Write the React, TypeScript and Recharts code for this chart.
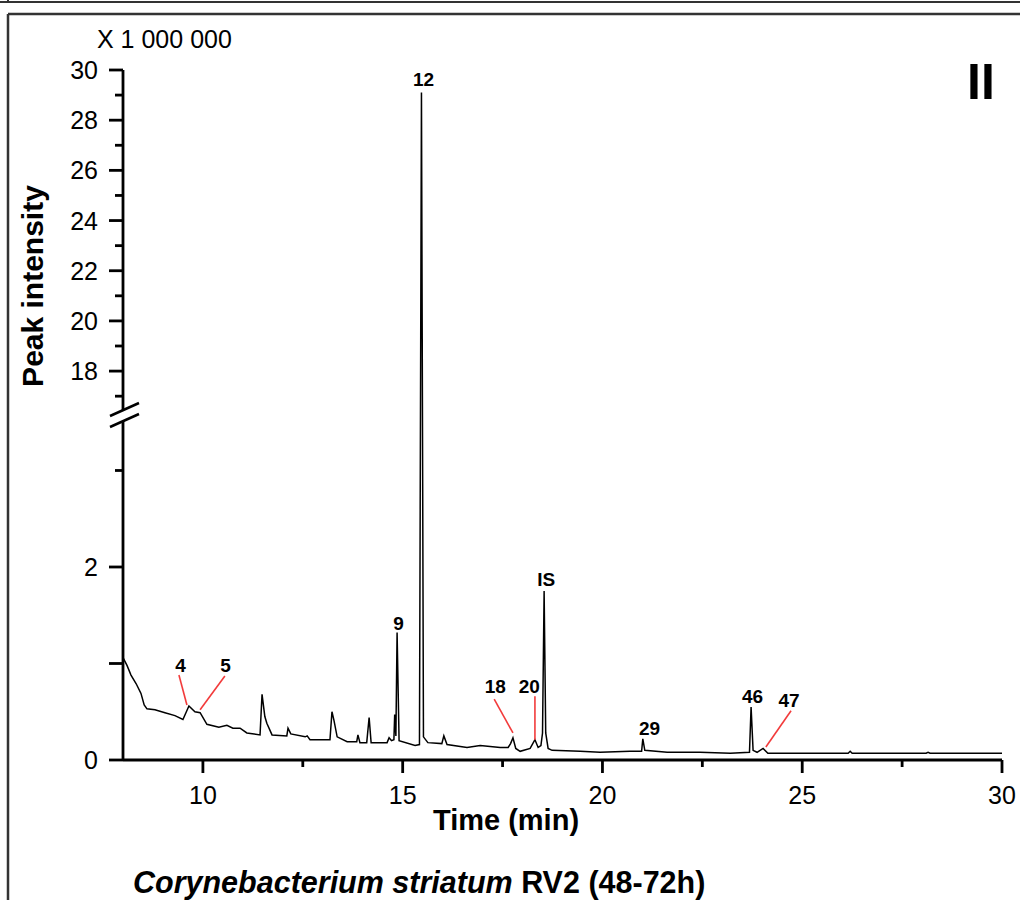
import { ComposedChart, Line, XAxis, YAxis, ReferenceLine, ReferenceDot } from "recharts";

// broken y axis: 0..BREAK_LOW drawn at full scale, BREAK_HIGH..30 compressed
const BREAK_LOW = 3.575;
const BREAK_HIGH = 16.25;
const UPPER_RATIO = 0.26;
const Y_TOP = BREAK_LOW + (30 - BREAK_HIGH) * UPPER_RATIO;

// retention time (min)
const times = [
  8.0, 8.1, 8.2, 8.33, 8.45, 8.53, 8.6, 8.8, 9.05, 9.3, 9.5, 9.65, 9.8, 9.93, 10.1, 10.4, 10.6, 10.75,
  10.93, 11.1, 11.43, 11.48, 11.55, 11.6, 11.73, 12.1, 12.13, 12.2, 12.56, 12.61, 12.68, 13.18, 13.23,
  13.28, 13.36, 13.61, 13.85, 13.88, 13.93, 14.1, 14.16, 14.21, 14.61, 14.66, 14.72, 14.78, 14.8, 14.83,
  14.86, 14.91, 15.31, 15.42, 15.47, 15.52, 15.63, 15.98, 16.03, 16.11, 16.61, 16.94, 17.44, 17.64,
  17.7, 17.76, 17.83, 17.94, 18.19, 18.31, 18.39, 18.46, 18.5, 18.54, 18.58, 18.64, 18.74, 19.44, 19.94,
  20.69, 20.98, 21.01, 21.06, 21.62, 22.44, 23.2, 23.68, 23.72, 23.77, 23.87, 24.02, 24.14, 26.15, 26.2,
  26.25, 28.1, 28.15, 28.2, 30.0,
];

// peak intensity (x 1 000 000)
const intensity = [
  1.06, 0.98, 0.88, 0.79, 0.69, 0.57, 0.53, 0.52, 0.49, 0.46, 0.42, 0.56, 0.5, 0.49, 0.37, 0.34, 0.36,
  0.33, 0.33, 0.28, 0.26, 0.68, 0.45, 0.38, 0.26, 0.25, 0.33, 0.27, 0.24, 0.25, 0.21, 0.21, 0.5, 0.41,
  0.24, 0.19, 0.19, 0.26, 0.18, 0.18, 0.44, 0.18, 0.18, 0.23, 0.2, 0.21, 0.47, 0.25, 1.32, 0.2, 0.15,
  0.16, 29.1, 0.24, 0.18, 0.17, 0.25, 0.16, 0.13, 0.15, 0.13, 0.13, 0.17, 0.23, 0.12, 0.09, 0.12, 0.21,
  0.13, 0.15, 0.28, 1.75, 0.28, 0.12, 0.1, 0.09, 0.08, 0.09, 0.09, 0.22, 0.1, 0.08, 0.08, 0.07, 0.08,
  0.55, 0.1, 0.08, 0.12, 0.07, 0.07, 0.09, 0.07, 0.07, 0.08, 0.07, 0.07,
];

const xTicks = [10, 12.5, 15, 17.5, 20, 22.5, 25, 27.5, 30];
const xTickLabels = [10, 15, 20, 25, 30];
const yTicksLower = [0, 1, 2, 3];
const yTicksUpper = [17, 18, 19, 20, 21, 22, 23, 24, 25, 26, 27, 28, 29, 30];
const yTickLabels = [0, 2, 18, 20, 22, 24, 26, 28, 30];
const yMajorUnlabeled = [1];

// peak numbers (text baseline position)
const peakLabels = [
  { name: "4", time: 9.44, value: 0.91 },
  { name: "5", time: 10.565, value: 0.91 },
  { name: "9", time: 14.895, value: 1.347 },
  { name: "12", time: 15.52, value: 29.36 },
  { name: "18", time: 17.32, value: 0.694 },
  { name: "20", time: 18.17, value: 0.694 },
  { name: "IS", time: 18.59, value: 1.8 },
  { name: "29", time: 21.18, value: 0.259 },
  { name: "46", time: 23.755, value: 0.591 },
  { name: "47", time: 24.67, value: 0.549 },
];

// red leader lines from label to peak
const leaders = [
  { from: [9.4, 0.88], to: [9.6, 0.57] },
  { from: [10.55, 0.87], to: [9.93, 0.52] },
  { from: [17.29, 0.63], to: [17.76, 0.28] },
  { from: [18.31, 0.66], to: [18.31, 0.21] },
  { from: [24.72, 0.51], to: [24.09, 0.135] },
];

const FONT = "'Liberation Sans', Arial, sans-serif";

function toDisplay(v: number) {
  if (v <= BREAK_LOW) return v;
  if (v >= BREAK_HIGH) return BREAK_LOW + (v - BREAK_HIGH) * UPPER_RATIO;
  return BREAK_LOW;
}

function fromDisplay(d: number) {
  if (d <= BREAK_LOW + 1e-9) return d;
  return BREAK_HIGH + (d - BREAK_LOW) / UPPER_RATIO;
}

const data = times.map((t, i) => ({ time: t, value: toDisplay(intensity[i]) }));
const yTicks = [...yTicksLower, BREAK_LOW, ...yTicksUpper.map(toDisplay)];

function YTick(props: any) {
  const { x, y, payload } = props;
  if (Math.abs(payload.value - BREAK_LOW) < 1e-6) {
    return (
      <g>
        <rect x={x - 4} y={y - 4.5} width={8} height={10.5} fill="#fff" />
        <line x1={x - 13} y1={y + 1} x2={x + 16} y2={y - 12} stroke="#000" strokeWidth={2.5} />
        <line x1={x - 13} y1={y + 12} x2={x + 16} y2={y - 1} stroke="#000" strokeWidth={2.5} />
      </g>
    );
  }
  const v = Math.round(fromDisplay(payload.value) * 1000) / 1000;
  const labeled = yTickLabels.includes(v);
  const len = labeled || yMajorUnlabeled.includes(v) ? 14 : 8;
  return (
    <g>
      <line x1={x - len} y1={y} x2={x} y2={y} stroke="#000" strokeWidth={2.8} />
      {labeled && (
        <text x={x - 25} y={y + 9} textAnchor="end" fontSize={25} fontFamily={FONT} fill="#000">
          {v}
        </text>
      )}
    </g>
  );
}

function XTick(props: any) {
  const { x, y, payload } = props;
  const labeled = xTickLabels.includes(payload.value);
  return (
    <g>
      <line x1={x} y1={y} x2={x} y2={y + (labeled ? 13 : 7)} stroke="#000" strokeWidth={2.8} />
      {labeled && (
        <text x={x} y={y + 44} textAnchor="middle" fontSize={25} fontFamily={FONT} fill="#000">
          {payload.value}
        </text>
      )}
    </g>
  );
}

export default function App() {
  return (
    <div style={{ position: "absolute", left: 0, top: 0, width: 1020, height: 900, background: "#fff" }}>
      <ComposedChart width={1020} height={900} data={data} margin={{ top: 70, right: 18, left: 0, bottom: 100 }}>
        <XAxis
          dataKey="time"
          type="number"
          domain={[8, 30]}
          ticks={xTicks}
          interval={0}
          tickSize={0}
          tickMargin={0}
          tickLine={false}
          tick={<XTick />}
          height={40}
          axisLine={{ stroke: "#000", strokeWidth: 2.8 }}
        />
        <YAxis
          type="number"
          domain={[0, Y_TOP]}
          ticks={yTicks}
          interval={0}
          tickSize={0}
          tickMargin={0}
          tickLine={false}
          tick={<YTick />}
          width={123}
          axisLine={{ stroke: "#000", strokeWidth: 2.8 }}
        />
        <Line
          dataKey="value"
          type="linear"
          stroke="#000"
          strokeWidth={1.5}
          dot={false}
          isAnimationActive={false}
        />
        {leaders.map((l, i) => (
          <ReferenceLine
            key={i}
            segment={[
              { x: l.from[0], y: toDisplay(l.from[1]) },
              { x: l.to[0], y: toDisplay(l.to[1]) },
            ]}
            stroke="#f23b3b"
            strokeWidth={1.6}
          />
        ))}
        {peakLabels.map((p) => (
          <ReferenceDot
            key={p.name}
            x={p.time}
            y={toDisplay(p.value)}
            r={0}
            shape={(s: any) => (
              <text
                x={s.cx}
                y={s.cy}
                textAnchor="middle"
                fontSize={19}
                fontWeight="bold"
                fontFamily={FONT}
                fill="#000"
              >
                {p.name}
              </text>
            )}
          />
        ))}
      </ComposedChart>
      <svg
        width={1020}
        height={900}
        style={{ position: "absolute", left: 0, top: 0, pointerEvents: "none" }}
      >
        <line x1={0} y1={2} x2={1020} y2={2} stroke="#333" strokeWidth={2} />
        <line x1={8} y1={0} x2={8} y2={3} stroke="#333" strokeWidth={2} />
        <line x1={8} y1={14} x2={1020} y2={14} stroke="#333" strokeWidth={2.5} />
        <line x1={8} y1={14} x2={8} y2={900} stroke="#333" strokeWidth={2.5} />
        <text x={97} y={48} fontSize={25} fontFamily={FONT} fill="#000">
          X 1 000 000
        </text>
        <text x={981} y={99} textAnchor="middle" fontSize={50} fontWeight="bold" fontFamily={FONT} fill="#000">
          II
        </text>
        <text
          x={43}
          y={286}
          transform="rotate(-90, 43, 286)"
          textAnchor="middle"
          fontSize={30}
          fontWeight="bold"
          fontFamily={FONT}
          fill="#000"
        >
          Peak intensity
        </text>
        <text x={506} y={830} textAnchor="middle" fontSize={29} fontWeight="bold" fontFamily={FONT} fill="#000">
          Time (min)
        </text>
        <text x={133} y={893} fontSize={30.5} fontWeight="bold" fontFamily={FONT} fill="#000">
          <tspan fontStyle="italic">Corynebacterium striatum</tspan>
          <tspan> RV2 (48-72h)</tspan>
        </text>
      </svg>
    </div>
  );
}
